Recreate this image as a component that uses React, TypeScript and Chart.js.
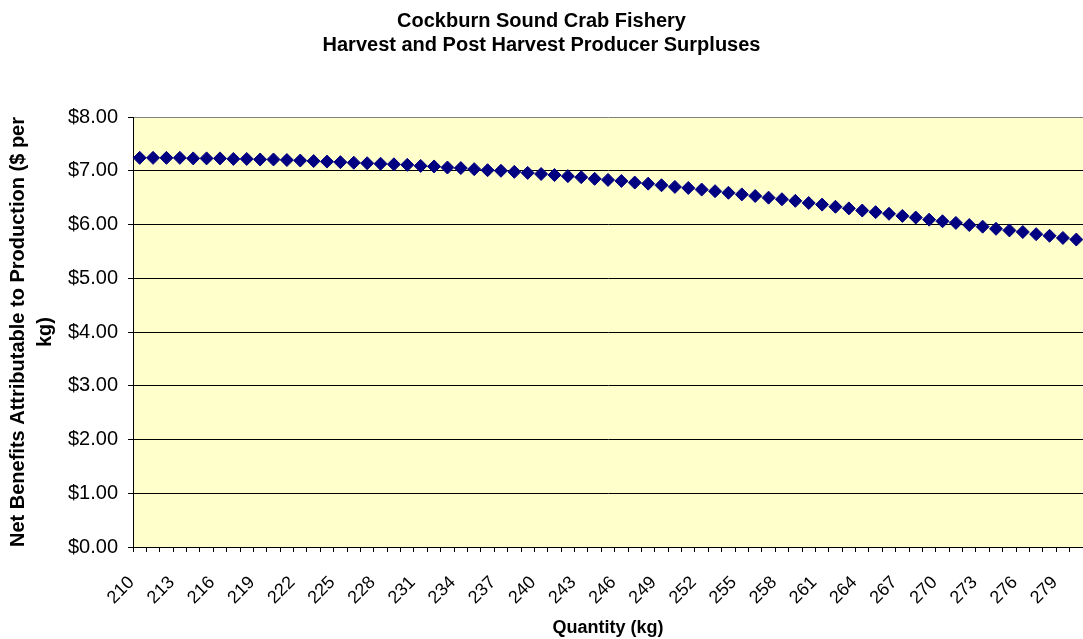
import React, { useEffect, useRef } from "react";
import { Chart, registerables } from "chart.js";

Chart.register(...registerables);

// Quantity categories (kg)
const quantities = [
  210, 211, 212, 213, 214, 215, 216, 217, 218, 219,
  220, 221, 222, 223, 224, 225, 226, 227, 228, 229,
  230, 231, 232, 233, 234, 235, 236, 237, 238, 239,
  240, 241, 242, 243, 244, 245, 246, 247, 248, 249,
  250, 251, 252, 253, 254, 255, 256, 257, 258, 259,
  260, 261, 262, 263, 264, 265, 266, 267, 268, 269,
  270, 271, 272, 273, 274, 275, 276, 277, 278, 279,
  280,
];

// Net benefits attributable to production ($ per kg)
const netBenefits = [
  7.24, 7.24, 7.24, 7.24, 7.23, 7.23, 7.23, 7.22, 7.22, 7.21,
  7.21, 7.2, 7.19, 7.18, 7.17, 7.16, 7.15, 7.14, 7.13, 7.12,
  7.11, 7.09, 7.08, 7.06, 7.05, 7.03, 7.01, 7.0, 6.98, 6.96,
  6.94, 6.92, 6.9, 6.88, 6.85, 6.83, 6.81, 6.78, 6.76, 6.73,
  6.7, 6.68, 6.65, 6.62, 6.59, 6.56, 6.53, 6.5, 6.47, 6.44,
  6.4, 6.37, 6.33, 6.3, 6.26, 6.23, 6.2, 6.16, 6.13, 6.09,
  6.06, 6.03, 5.99, 5.96, 5.92, 5.89, 5.86, 5.82, 5.79, 5.75,
  5.72,
];

const titleLines = [
  "Cockburn Sound Crab Fishery",
  "Harvest and Post Harvest Producer Surpluses",
];
const yTitleLines = [
  "Net Benefits Attributable to Production ($ per",
  "kg)",
];
const xTitle = "Quantity (kg)";

const FONT = "'Liberation Sans', Arial, Helvetica, sans-serif";

const plotBackground = {
  id: "plotBackground",
  beforeDraw(chart: any) {
    const { ctx, chartArea, width, height } = chart;
    ctx.save();
    ctx.fillStyle = "#ffffff";
    ctx.fillRect(0, 0, width, height);
    ctx.fillStyle = "#ffffcc";
    ctx.fillRect(
      chartArea.left,
      chartArea.top,
      chartArea.right - chartArea.left,
      chartArea.bottom - chartArea.top
    );
    ctx.restore();
  },
};

export default function App() {
  const canvasRef = useRef<HTMLCanvasElement | null>(null);

  useEffect(() => {
    const canvas = canvasRef.current;
    if (!canvas) return;
    const chart = new Chart(canvas, {
      type: "line",
      data: {
        labels: quantities.map(String),
        datasets: [
          {
            data: netBenefits,
            showLine: false,
            pointStyle: "rectRot",
            pointRadius: 6.5,
            pointBorderWidth: 1,
            pointBackgroundColor: "#000080",
            pointBorderColor: "#000080",
            borderColor: "#000080",
          },
        ],
      },
      options: {
        responsive: false,
        animation: false,
        layout: { padding: 0, autoPadding: false },
        plugins: {
          legend: { display: false },
          tooltip: { enabled: false },
          title: {
            display: true,
            text: titleLines,
            color: "#000",
            font: { family: FONT, size: 20, weight: "bold", lineHeight: 1.2 },
            padding: { top: 9, bottom: 60 },
          },
        },
        scales: {
          x: {
            type: "category",
            offset: true,
            afterFit(scale: any) {
              scale.height = 92;
              scale.paddingLeft = 0;
              scale.paddingRight = 0;
            },
            grid: {
              offset: true,
              drawOnChartArea: false,
              drawTicks: true,
              tickLength: 5,
              color: "#000",
            },
            border: { color: "#000", width: 1 },
            ticks: {
              autoSkip: false,
              minRotation: 45,
              maxRotation: 45,
              padding: 20,
              labelOffset: -8,
              color: "#000",
              font: { family: FONT, size: 18 },
              callback: (_v: any, i: number) =>
                i % 3 === 0 ? String(quantities[i]) : "",
            },
            title: {
              display: true,
              text: xTitle,
              color: "#000",
              font: { family: FONT, size: 18, weight: "bold", lineHeight: 1.2 },
              padding: { top: 0, bottom: 0 },
            },
          },
          y: {
            min: 0,
            max: 8,
            afterFit(scale: any) {
              scale.width = 133;
            },
            grid: {
              color: (c: any) => (c.tick && c.tick.value === 8 ? "#808080" : "#000"),
              tickColor: "#000",
              tickLength: 5,
              drawTicks: true,
            },
            border: { color: "#000", width: 1 },
            ticks: {
              stepSize: 1,
              padding: 10,
              color: "#000",
              font: { family: FONT, size: 20 },
              callback: (v: any) => "$" + Number(v).toFixed(2),
            },
            title: {
              display: true,
              text: yTitleLines,
              color: "#000",
              font: { family: FONT, size: 20, weight: "bold", lineHeight: 1.35 },
              padding: { top: 4.5, bottom: 0 },
            },
          },
        },
      },
      plugins: [plotBackground],
    });
    return () => chart.destroy();
  }, []);

  return (
    <div style={{ position: "absolute", left: 0, top: 0, width: 1083, height: 639 }}>
      <canvas ref={canvasRef} width={1083} height={639} />
    </div>
  );
}
